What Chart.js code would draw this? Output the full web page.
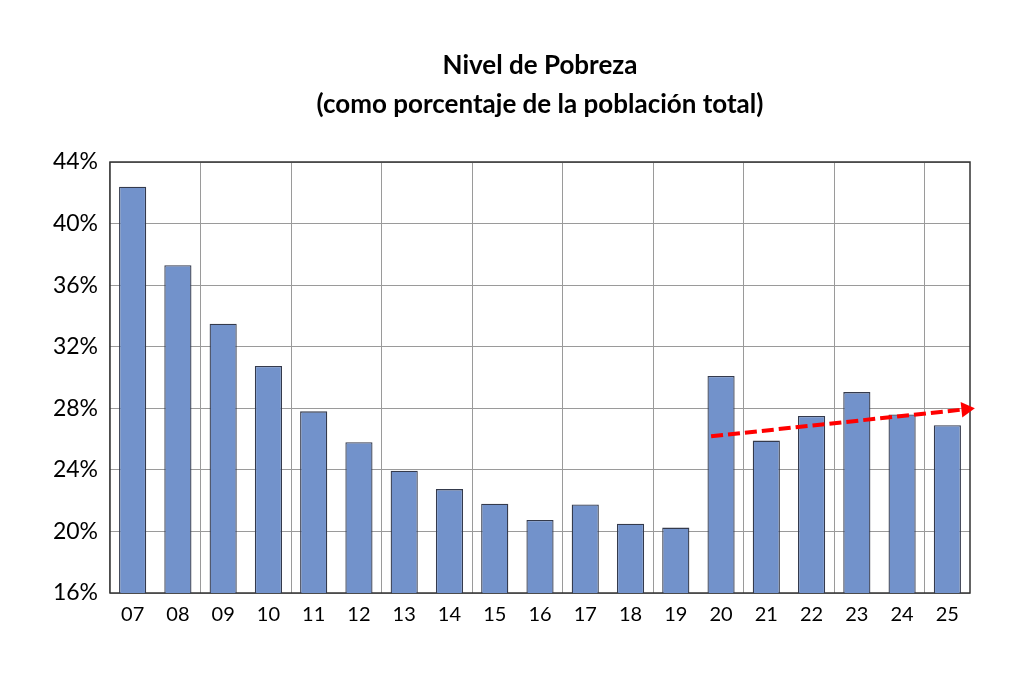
<!DOCTYPE html>
<html>
<head>
<meta charset="utf-8">
<script src="https://cdn.jsdelivr.net/npm/chart.js@4"></script>
<style>
  html, body { margin: 0; padding: 0; background: #fff; }
  #wrap { width: 1024px; height: 678px; }
</style>
</head>
<body>
<div id="wrap"><canvas id="chart"></canvas></div>
<script>
// Datos
const years = ['07','08','09','10','11','12','13','14','15','16','17','18','19','20','21','22','23','24','25'];
const pobreza = [42.4, 37.3, 33.5, 30.75, 27.8, 25.8, 23.95, 22.75, 21.8, 20.75, 21.75, 20.5, 20.25, 30.1, 25.9, 27.5, 29.05, 27.6, 26.9];
// flecha de tendencia (posicion en categorias, valor en %)
const trendX = [12.78, 18.41];
const trendY = [26.18, 27.94];
const yTicks = [16, 20, 24, 28, 32, 36, 40, 44];

const fontFam = 'Lato, "Open Sans", sans-serif';

// marco oscuro alrededor del area del grafico
const framePlugin = {
  id: 'frame',
  beforeDatasetsDraw(chart) {
    const { ctx, chartArea: a } = chart;
    ctx.save();
    ctx.strokeStyle = '#333';
    ctx.lineWidth = 1.5;
    ctx.strokeRect(a.left, a.top, a.right - a.left, a.bottom - a.top);
    ctx.restore();
  }
};

new Chart(document.getElementById('chart'), {
  type: 'bar',
  data: {
    labels: years,
    datasets: [
      {
        type: 'line',
        label: 'Tendencia',
        data: trendX.map((x, i) => ({ x: x, y: trendY[i] })),
        xAxisID: 'x2',
        borderColor: '#ff0000',
        borderWidth: 4,
        borderDash: [12, 5],
        pointRadius: [0, 9],
        pointStyle: 'triangle',
        pointRotation: [0, 84],
        pointBackgroundColor: '#ff0000',
        pointBorderColor: '#ff0000',
        pointBorderWidth: 0,
        clip: false,
        order: 0
      },
      {
        label: 'Pobreza',
        data: pobreza,
        xAxisID: 'x',
        grouped: false,
        backgroundColor: '#7292cb',
        borderColor: '#343a4c',
        borderWidth: 1.3,
        barPercentage: 0.6,
        categoryPercentage: 1,
        order: 1
      }
    ]
  },
  options: {
    responsive: true,
    maintainAspectRatio: false,
    animation: false,
    layout: { padding: { left: 0, right: 54, top: 0, bottom: 45 } },
    plugins: {
      legend: { display: false },
      tooltip: { enabled: false },
      title: {
        display: true,
        fullSize: false,
        text: ['Nivel de Pobreza', '(como porcentaje de la población total)'],
        color: '#000',
        font: { family: fontFam, size: 26, weight: 'bold', lineHeight: 1.5 },
        padding: { top: 46, bottom: 38 }
      }
    },
    scales: {
      x: {
        offset: true,
        grid: {
          offset: true,
          drawTicks: false,
          color: (c) => (c.index % 2 === 0 ? '#9a9a9a' : 'rgba(0,0,0,0)')
        },
        border: { display: false },
        ticks: { color: '#000', padding: 10, font: { family: fontFam, size: 20 } },
        afterFit: (s) => { s.height = 40; }
      },
      x2: {
        type: 'linear',
        display: false,
        offset: false,
        grid: { offset: false },
        min: -0.5,
        max: 18.5
      },
      y: {
        min: 16,
        max: 44,
        afterBuildTicks: (s) => { s.ticks = yTicks.map(v => ({ value: v })); },
        grid: { color: '#9a9a9a', drawTicks: false },
        border: { display: false },
        ticks: {
          color: '#000',
          padding: 12,
          font: { family: fontFam, size: 23 },
          callback: (v) => v + '%'
        },
        afterFit: (s) => { s.width = 110; }
      }
    }
  },
  plugins: [framePlugin]
});
</script>
</body>
</html>
